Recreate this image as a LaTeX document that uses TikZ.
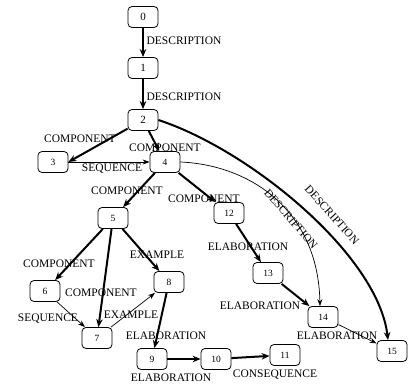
\documentclass[tikz,border=0pt]{standalone}
\usepackage{fontspec}
\setmainfont{Liberation Serif}
\usetikzlibrary{arrows.meta}
\begin{document}
\begin{tikzpicture}[x=1pt,y=-1pt,
 box/.style={draw, rounded corners=4pt, minimum width=30pt, minimum height=21pt, inner sep=0pt, line width=0.8pt, font=\fontsize{9.5}{10}\selectfont},
 big/.style={font=\fontsize{11}{12}\selectfont},
 lab/.style={font=\fontsize{11.5}{12}\selectfont, inner sep=0pt},
 thickarr/.style={line width=2pt, -{Stealth[length=8pt,width=6.5pt]}},
 thinarr/.style={line width=0.7pt, -{Stealth[length=7pt,width=5pt]}},
]
\useasboundingbox (0,0) rectangle (409,390);
% nodes
\node[box,big] (n0) at (143,17) {0};
\node[box,big] (n1) at (143,68) {1};
\node[box,big] (n2) at (143,120) {2};
\node[box] (n3) at (53,162) {3};
\node[box] (n4) at (165,162) {4};
\node[box] (n5) at (113,218) {5};
\node[box] (n6) at (45,291) {6};
\node[box] (n7) at (97,338) {7};
\node[box] (n8) at (169,282) {8};
\node[box] (n9) at (152,359) {9};
\node[box] (n10) at (216,359) {10};
\node[box] (n11) at (285,355) {11};
\node[box] (n12) at (229,213) {12};
\node[box] (n13) at (268,273) {13};
\node[box] (n14) at (323,317) {14};
\node[box] (n15) at (392,351) {15};
% edges
\draw[thickarr] (n0) -- (n1);
\draw[thickarr] (n1) -- (n2);
\draw[thickarr] (n2) -- (n3.east);
\draw[thickarr] (n2) -- (n4);
\draw[thinarr] (n3) -- (n4);
\draw[thickarr] (n4) -- (n5);
\draw[thickarr] (n4) -- (n12);
\draw[thickarr] (n5) -- (n6);
\draw[thickarr] (n5) -- (n7);
\draw[thickarr] (n5) -- (n8);
\draw[thinarr] (n6) -- (n7);
\draw[thinarr] (n7) -- (n8);
\draw[thickarr] (n8) -- (n9);
\draw[thickarr] (n9) -- (n10);
\draw[thickarr] (n10) -- (n11);
\draw[thickarr] (n12) -- (n13);
\draw[thickarr] (n13) -- (n14);
\draw[thinarr] (n14) -- (n15);
\draw[thickarr] (n2.east) .. controls (250,150) and (378,255) .. ([xshift=-4pt]n15.north);
\draw[thinarr] (n4.east) .. controls (250,165) and (318,210) .. ([xshift=-3pt]n14.north);
% labels
\node[lab] (l01) at (184,41) {DESCRIPTION};
\node[lab] (l12) at (184,97) {DESCRIPTION};
\node[lab] (l23) at (80,139) {COMPONENT};
\node[lab] (l24) at (165,148) {COMPONENT};
\node[lab] (l34) at (112,169) {SEQUENCE};
\node[lab] (l45) at (127,191) {COMPONENT};
\node[lab] (l412) at (204,199) {COMPONENT};
\node[lab] (l1213) at (248,247) {ELABORATION};
\node[lab] (l1314) at (260,306) {ELABORATION};
\node[lab] (l1415) at (337,336) {ELABORATION};
\node[lab] (l56) at (59,264) {COMPONENT};
\node[lab] (l57) at (101,293) {COMPONENT};
\node[lab] (l58) at (157,255) {EXAMPLE};
\node[lab] (l67) at (48,319) {SEQUENCE};
\node[lab] (l78) at (131,315) {EXAMPLE};
\node[lab] (l89) at (166,336) {ELABORATION};
\node[lab] (l910) at (171,378) {ELABORATION};
\node[lab] (l1011) at (275,375) {CONSEQUENCE};
\node[lab,rotate=-49] (l414) at (291,219) {DESCRIPTION};
\node[lab,rotate=-48] (l215) at (332,215) {DESCRIPTION};
\end{tikzpicture}
\end{document}
